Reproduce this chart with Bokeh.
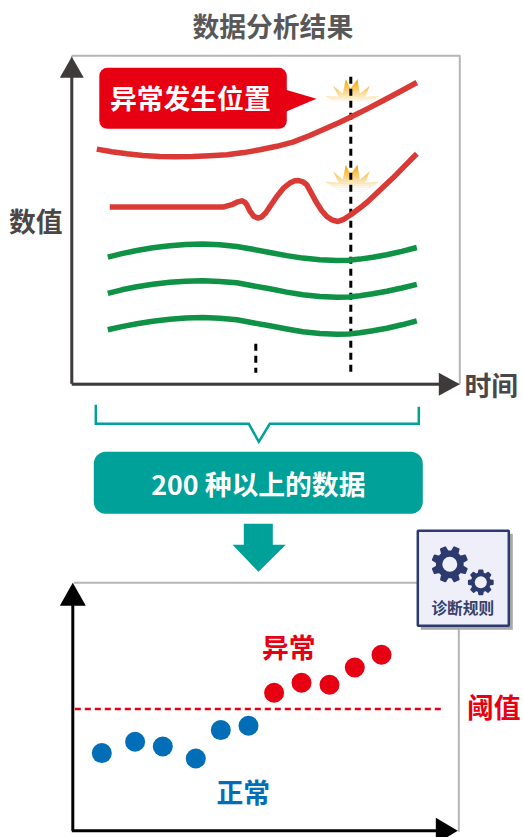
import numpy as np
from bokeh.plotting import figure
from bokeh.core.properties import value
from bokeh.embed import file_html
from bokeh.resources import INLINE

# Values (page pixel coordinates)
top_red_x = [97, 112, 127, 143, 160, 176, 193, 210, 227, 244, 260, 277, 293, 310, 327, 339, 351, 367, 383, 400, 417]
top_red_y = [149.3, 152, 154, 155.6, 156.7, 157, 156.7, 156, 155, 152.8, 150, 146.5, 142.3, 135.7, 128.3, 123, 117.3, 109.3, 101, 92, 82.7]
wave_red_x = [110, 223, 233, 238, 242, 245, 247, 250, 254, 258, 262, 266, 271, 277, 284, 290, 295, 299, 303, 307, 312, 317, 322, 327, 332, 338, 344, 351, 359, 367, 380, 393, 405, 417]
wave_red_y = [207.3, 207.3, 204.5, 202, 201, 202.5, 205, 211, 216.5, 218.3, 217, 213, 205.5, 196.7, 188, 183.3, 181, 180.7, 182, 185, 194, 203.3, 211, 216.7, 220, 221.7, 219.5, 215, 209, 202.7, 190.5, 178.3, 166, 154]
green_x = [108, 122, 137, 153, 170, 186, 203, 220, 237, 253, 270, 287, 303, 320, 337, 349, 360, 373, 387, 402, 417]
green_1 = [257.3, 253.8, 250.7, 248, 246, 244.8, 244.3, 245, 246.7, 249.5, 252.7, 255.8, 258.3, 260, 260.7, 260.4, 259.3, 257.5, 255, 251.6, 247.7]
green_2 = [293.5, 290, 287, 284.5, 282.5, 281.4, 281, 281.6, 283, 286, 289, 292.3, 295, 296.8, 297.5, 297.2, 296, 294, 291.5, 288.2, 284.5]
green_3 = [330, 326.8, 324, 321.4, 319.5, 318.2, 317.7, 318.4, 320, 323, 326, 329.2, 332, 333.8, 334.5, 334.2, 333, 331, 328.5, 325, 321]
normal_x = [102, 135.3, 163, 196, 221, 248.7]
normal_y = [753.3, 742, 746.7, 758.7, 730.3, 726]
abnormal_x = [274.3, 301.7, 329.7, 355, 381.7]
abnormal_y = [693, 683, 685, 667.7, 655]
threshold_y = 709.3
labels_dark = ["数据分析结果", "数值", "时间"]

FONT = value("Noto Sans CJK SC")
DARK = "#3e3a39"
TEAL = "#00a199"
RED = "#e60012"
GRAY = "#b5b5b5"

p = figure(width=523, height=837, x_range=(0.7, 523.7), y_range=(837.7, 0.7),
           x_axis_type=None, y_axis_type=None, toolbar_location=None,
           output_backend="svg", min_border=0, outline_line_color=None,
           background_fill_color="white", border_fill_color="white")
p.grid.visible = False


def label(x, y, s, size, color):
    p.text([x], [y - 1.3], text=[s], text_font=FONT, text_font_style="bold",
           text_font_size=f"{size}px", text_color=color,
           text_align="center", text_baseline="middle")


def burst(cy):
    bx = [325, 339, 333.3, 343, 346, 350.7, 357.7, 360, 370, 365.5, 380, 362, 342]
    by = [96, 97, 86, 94, 79.3, 89, 79.3, 94, 86, 97, 96, 108, 108]
    p.patch(bx, [v + cy - 92 for v in by], fill_color="#f5a90a", line_color=None)
    ys = np.arange(78, 110, 2.0)
    p.quad(left=323, right=382, top=ys + cy - 92, bottom=ys + 2.3 + cy - 92,
           fill_color="white", line_color=None,
           fill_alpha=np.clip((ys - 80) / 22, 0, 1))


def gear(cx, cy, ro, ri, hole, teeth, phase):
    xs, ys = [], []
    for k in range(teeth):
        a = 2 * np.pi * k / teeth + phase
        w = 2 * np.pi / teeth
        for da, r in [(-0.30, ri), (-0.17, ro), (0.17, ro), (0.30, ri)]:
            xs.append(cx + r * np.cos(a + da * w))
            ys.append(cy + r * np.sin(a + da * w))
    c = "#2d3a6e"
    p.patch(xs, ys, fill_color=c, line_color=c, line_width=2, line_join="round")
    p.scatter([cx], [cy], size=hole * 2, fill_color="#eeeff8", line_color=None)


# Upper panel
p.line([72, 72, 460, 460, 72], [56, 384, 384, 56, 56], line_color=GRAY, line_width=2)
p.line([72, 72], [384, 76], line_color=DARK, line_width=3)
p.line([72, 442], [384.5, 384.5], line_color=DARK, line_width=3)
p.patch([60, 72, 84], [78, 57, 78], fill_color=DARK, line_color=None)
p.patch([439, 460, 439], [373, 384.5, 396], fill_color=DARK, line_color=None)

burst(92)
burst(177.7)

p.line([351, 351], [77, 373], line_color="black", line_width=3, line_dash="7 5")
p.line([256, 256], [344, 373], line_color="black", line_width=3, line_dash="7 5")

p.line(top_red_x, top_red_y, line_color="#d93a36", line_width=5.5, line_join="round")
p.line(wave_red_x, wave_red_y, line_color="#d93a36", line_width=5.5, line_join="round")
for g in (green_1, green_2, green_3):
    p.line(green_x, g, line_color="#0f9146", line_width=5.5, line_join="round")

p.quad(left=99.5, right=287, top=68, bottom=129, fill_color=RED, line_color=None, border_radius=8)
p.patch([286, 316.7, 286], [90, 99, 112], fill_color=RED, line_color=None)
label(190.5, 99, "异常发生位置", 26.8, "white")

label(273, 27, labels_dark[0], 26.8, "#595757")
label(36, 222, labels_dark[1], 26.8, "#4a4746")
label(491.5, 386, labels_dark[2], 26.8, "#4a4746")

# Bracket, banner, arrow
p.line([96, 96, 249, 259, 270, 419, 419], [405, 424, 424, 442, 424, 424, 407],
       line_color=TEAL, line_width=2.5, line_join="miter")
p.quad(left=94, right=423, top=452, bottom=514, fill_color=TEAL, line_color=None, border_radius=12)
label(258.5, 485, "200 种以上的数据", 26.8, "white")
p.patch([244, 273, 273, 286, 258.7, 232.7, 244], [524, 524, 545, 545, 572, 545, 545],
        fill_color=TEAL, line_color=None)

# Lower panel
p.line([74, 459, 459], [583, 583, 832], line_color=GRAY, line_width=2)
p.line([73, 73], [831, 600], line_color="black", line_width=3)
p.line([72, 440], [831, 831], line_color="black", line_width=3)
p.patch([60, 73, 86], [606, 583, 606], fill_color="black", line_color=None)
p.patch([436, 458, 436], [818, 831, 844], fill_color="black", line_color=None)
p.line([75, 444], [threshold_y, threshold_y], line_color=RED, line_width=2.5, line_dash="6 4")
p.scatter(normal_x, normal_y, size=20, fill_color="#036eb8", line_color=None)
p.scatter(abnormal_x, abnormal_y, size=20, fill_color=RED, line_color=None)
label(289, 648, "异常", 26.8, RED)
label(243.5, 793, "正常", 26.8, "#036eb8")
label(494, 708, "阈值", 26.8, RED)

# Rule box
p.quad(left=421, right=513, top=534, bottom=630, fill_color="#a9a9a9", line_color=None)
p.quad(left=418, right=509, top=531, bottom=626, fill_color="#eeeff8", line_color="#2d3a6e", line_width=2.5)
gear(450, 564.5, 17.5, 13, 7.5, 8, 0.39)
gear(481, 582.5, 12, 9, 6, 8, 0.0)
label(463, 609, "诊断规则", 15.7, "#34416f")

open("out.html", "w").write(file_html(p, INLINE))
